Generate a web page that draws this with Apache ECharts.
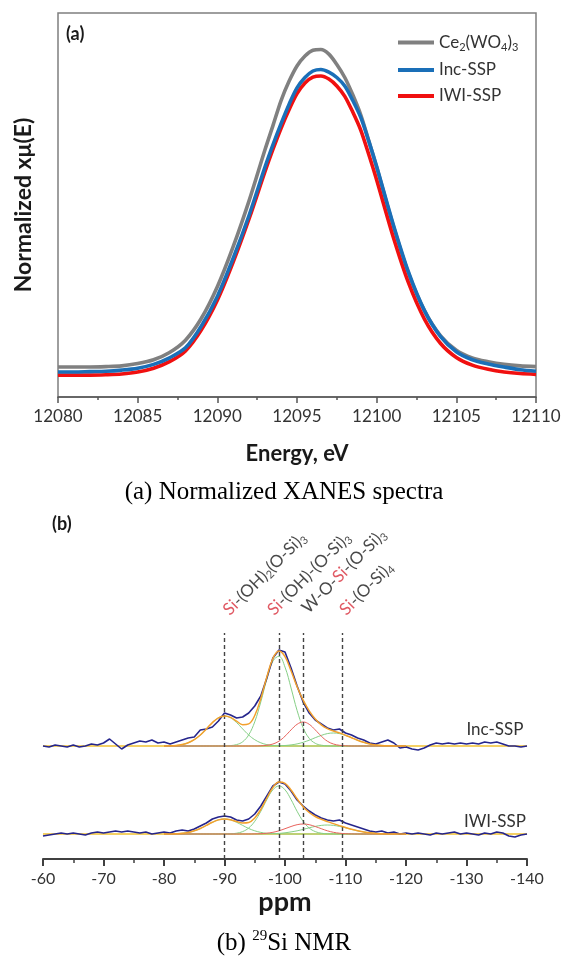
<!DOCTYPE html>
<html><head><meta charset="utf-8">
<script src="https://cdn.jsdelivr.net/npm/echarts@6/dist/echarts.min.js"></script>
<style>html,body{margin:0;padding:0;background:#fff}#c{width:564px;height:956px}</style>
</head><body><div id="c"></div>
<script>
// ---------- (a) XANES data ----------
const energy = [12080,12081,12082,12083,12084,12085,12086,12087,12088,12089,12090,12091,12092,12093,12093.5,12094,12094.5,12095,12095.5,12096,12096.5,12097,12097.5,12098,12098.5,12099,12099.5,12100,12101,12102,12103,12104,12105,12106,12107,12108,12109,12110];
const xanesCe  = [0.078,0.078,0.078,0.079,0.081,0.087,0.097,0.116,0.148,0.205,0.287,0.392,0.512,0.645,0.708,0.772,0.822,0.862,0.888,0.903,0.905,0.893,0.866,0.832,0.787,0.735,0.668,0.598,0.452,0.322,0.225,0.160,0.122,0.102,0.092,0.085,0.081,0.079];
const xanesInc = [0.065,0.065,0.066,0.067,0.070,0.075,0.085,0.102,0.128,0.185,0.262,0.362,0.474,0.600,0.658,0.712,0.762,0.805,0.832,0.849,0.853,0.846,0.832,0.810,0.772,0.728,0.667,0.600,0.455,0.325,0.225,0.158,0.118,0.097,0.086,0.078,0.071,0.067];
const xanesIwi = [0.057,0.057,0.057,0.058,0.060,0.065,0.075,0.092,0.120,0.175,0.252,0.352,0.465,0.588,0.646,0.700,0.748,0.790,0.818,0.833,0.836,0.828,0.810,0.783,0.742,0.695,0.632,0.565,0.422,0.297,0.203,0.140,0.103,0.083,0.072,0.065,0.061,0.059];
const xanesNames = ['Ce2(WO4)3','Inc-SSP','IWI-SSP'];

// ---------- (b) 29Si NMR data ----------
const ppm = [-60,-61,-62,-63,-64,-65,-66,-67,-68,-69,-70,-71,-72,-73,-74,-75,-76,-77,-78,-79,-80,-81,-82,-83,-84,-85,-86,-87,-88,-89,-90,-91,-92,-93,-94,-95,-96,-97,-98,-99,-100,-101,-102,-103,-104,-105,-106,-107,-108,-109,-110,-111,-112,-113,-114,-115,-116,-117,-118,-119,-120,-121,-122,-123,-124,-125,-126,-127,-128,-129,-130,-131,-132,-133,-134,-135,-136,-137,-138,-139,-140];
const nmrIncExp = [0,-1,1,0,-1,1,-1,0,2,1,3,7,2,-3,1,3,5,4,6,3,4,2,4,6,8,9,16,17,19,25,33,31,28,29,33,40,50,68,88,96,94,78,60,44,33,26,22,18,16,17,13,11,8,6,3,2,4,6,3,-2,-1,-3,-4,-2,1,3,2,3,2,3,2,3,2,4,3,4,2,0,0,-1,0];
const nmrIwiExp = [-2,-1,0,1,0,1,0,-1,1,2,1,2,3,2,3,2,1,2,0,1,2,1,3,4,3,5,8,11,15,17,18,17,14,13,15,20,28,38,48,52,50,43,34,28,23,19,16,14,13,14,11,9,7,5,3,2,3,1,2,0,1,0,1,0,-1,1,0,1,2,0,1,0,-1,1,0,2,1,-2,-3,-1,0];

const ppmFit = [-80,-81,-82,-83,-84,-85,-86,-87,-88,-89,-90,-91,-92,-93,-94,-95,-96,-97,-98,-99,-100,-101,-102,-103,-104,-105,-106,-107,-108,-109,-110,-111,-112,-113,-114,-115,-116,-117,-118,-119,-120];
// Inc-SSP fit
const incQ2   = [0.1,0.2,0.5,1.4,3.2,6.3,11.0,17.1,23.4,28.2,30,28.2,23.4,17.1,11.0,6.3,3.2,1.4,0.5,0.2,0.1,0,0,0,0,0,0,0,0,0,0,0,0,0,0,0,0,0,0,0,0];
const incQ3   = [0,0,0,0,0,0,0,0,0,0,0.1,0.4,1.4,4.2,11.1,24.2,44.1,67.0,84.9,89.7,78.9,58.0,35.5,18.1,7.7,2.7,0.8,0.2,0,0,0,0,0,0,0,0,0,0,0,0,0];
const incWOSi = [0,0,0,0,0,0,0,0,0,0,0,0,0,0,0,0,0.2,0.7,2.0,4.8,9.8,16.1,21.7,24,21.7,16.1,9.8,4.8,2.0,0.7,0.2,0,0,0,0,0,0,0,0,0,0];
const incQ4   = [0,0,0,0,0,0,0,0,0,0,0,0,0,0,0,0,0,0,0.1,0.2,0.5,1.1,2.1,3.7,5.8,8.3,10.6,12.4,13,12.4,10.6,8.3,5.8,3.7,2.1,1.1,0.5,0.2,0.1,0,0];
const incFit  = [0.1,0.2,0.5,1.4,3.2,6.3,11.0,17.1,23.4,28.2,30.1,28.6,24.8,21.3,22.1,30.5,47.5,69.1,87.5,94.9,89.3,75.2,59.3,45.8,35.2,27.1,21.2,17.4,15.0,13.1,10.8,8.3,5.8,3.7,2.1,1.1,0.5,0.2,0.1,0,0];
// IWI-SSP fit
const iwiQ2   = [0,0.1,0.3,0.7,1.6,3.2,5.5,8.6,11.7,14.1,15,14.1,11.7,8.6,5.5,3.2,1.6,0.7,0.3,0.1,0,0,0,0,0,0,0,0,0,0,0,0,0,0,0,0,0,0,0,0,0];
const iwiQ3   = [0,0,0,0,0,0,0,0,0,0,0.1,0.2,0.8,2.4,6.0,12.7,22.7,34.4,44.2,48,44.2,34.4,22.7,12.7,6.0,2.4,0.8,0.2,0.1,0,0,0,0,0,0,0,0,0,0,0,0];
const iwiWOSi = [0,0,0,0,0,0,0,0,0,0,0,0,0,0,0,0.1,0.3,0.8,1.7,3.2,5.3,7.5,9.3,10,9.3,7.5,5.3,3.2,1.7,0.8,0.3,0.1,0,0,0,0,0,0,0,0,0];
const iwiQ4   = [0,0,0,0,0,0,0,0,0,0,0,0,0,0,0,0,0,0.1,0.3,0.6,1.2,2.1,3.2,4.6,6.2,7.6,8.6,9,8.6,7.6,6.2,4.6,3.2,2.1,1.2,0.6,0.3,0.1,0,0,0];
const iwiFit  = [0,0.1,0.3,0.7,1.6,3.2,5.5,8.6,11.7,14.1,15.1,14.3,12.5,11.0,11.5,16.0,24.6,36.0,46.5,51.9,50.7,44.0,35.2,27.3,21.5,17.5,14.7,12.4,10.4,8.4,6.5,4.7,3.2,2.1,1.2,0.6,0.3,0.1,0,0,0];
const baselinePpm = [-60,-140];
const baselineVal = [0,0];

const assignPpm = [-90,-99,-103,-109.5];
const assignLabels = [
  '{r|Si}{k|-(OH)}{s|2}{k|(O-Si)}{s|3}',
  '{r|Si}{k|-(OH)-(O-Si)}{s|3}',
  '{k|W-O-}{r|Si}{k|-(O-Si)}{s|3}',
  '{r|Si}{k|-(O-Si)}{s|4}'
];

// ---------- layout / style ----------
const incOffset = 113, iwiOffset = 25;   // vertical stacking of the two spectra
const nmrTop = 226;
const assignDx = [9,-1,9,7.5];           // screen shift of each label start from its dashed line top
const assignDy = [-13,-13,-15,-13];
const ROT = 45;
const SANS = 'Lato, "Open Sans", "DejaVu Sans", sans-serif';
const SERIF = '"Liberation Serif", "DejaVu Serif", serif';

function pairs(xs, ys, off) { return xs.map((x, i) => [x, ys[i] + (off || 0)]); }
function nmr(name, xs, ys, off, color, width, z, smooth) {
  return { type: 'line', name, xAxisIndex: 1, yAxisIndex: 1, data: pairs(xs, ys, off),
    symbol: 'none', showSymbol: false, smooth: smooth ? 0.4 : false, silent: true,
    lineStyle: { color, width }, itemStyle: { color }, z };
}
function xanes(name, ys, color) {
  return { type: 'line', name, xAxisIndex: 0, yAxisIndex: 0, data: pairs(energy, ys),
    symbol: 'none', showSymbol: false, smooth: 0.3, lineStyle: { color, width: 3.6 }, itemStyle: { color } };
}
// label offsets are applied in the rotated frame: un-rotate the wanted screen shift
function rotOffset(dx, dy) {
  const a = ROT * Math.PI / 180, c = Math.cos(a), s = Math.sin(a);
  return [dx * c - dy * s, dx * s + dy * c];
}

const C_EXP = '#25258c', C_FIT = '#f2a02c', C_G = '#86cf86', C_R = '#e8625c', C_BASE = '#f0c030';
const LBL_RICH = {
  r: { fontFamily: SANS, fontSize: 17, lineHeight: 20, color: '#d8303c' },
  k: { fontFamily: SANS, fontSize: 17, lineHeight: 20, color: '#1a1a1a' },
  s: { fontFamily: SANS, fontSize: 11, lineHeight: 10, verticalAlign: 'bottom', color: '#1a1a1a' }
};

const chart = echarts.init(document.getElementById('c'));
const option = {
  animation: false,
  backgroundColor: '#ffffff',
  grid: [
    { left: 58, top: 13, width: 478, height: 384, show: true, borderColor: '#7f7f7f', borderWidth: 1.5 },
    { left: 43, top: 633, width: 484, height: 226 }
  ],
  xAxis: [
    { gridIndex: 0, type: 'value', min: 12080, max: 12110, interval: 5,
      axisLine: { show: true, lineStyle: { color: '#555', width: 1.5 } },
      axisTick: { show: true, length: 6, lineStyle: { color: '#555', width: 1.5 } },
      minorTick: { show: true, splitNumber: 2, length: 3, lineStyle: { color: '#555', width: 1.5 } },
      splitLine: { show: false },
      axisLabel: { color: '#333', fontSize: 17, fontFamily: SANS, margin: 11, formatter: v => String(v) },
      name: 'Energy, eV', nameLocation: 'middle', nameGap: 46,
      nameTextStyle: { fontSize: 22, fontWeight: 'bold', color: '#1a1a1a', fontFamily: SANS } },
    { gridIndex: 1, type: 'value', min: -140, max: -60, interval: 10, inverse: true,
      axisLine: { show: true, lineStyle: { color: '#404040', width: 2 } },
      axisTick: { show: true, length: 7, lineStyle: { color: '#404040', width: 2 } },
      minorTick: { show: true, splitNumber: 2, length: 4, lineStyle: { color: '#404040', width: 1.5 } },
      splitLine: { show: false },
      axisLabel: { color: '#333', fontSize: 16, fontFamily: SANS, margin: 12 },
      name: 'ppm', nameLocation: 'middle', nameGap: 30,
      nameTextStyle: { fontSize: 27, fontWeight: 'bold', color: '#1a1a1a', fontFamily: SANS } }
  ],
  yAxis: [
    { gridIndex: 0, type: 'value', min: 0, max: 1,
      axisLine: { show: false }, axisTick: { show: false }, axisLabel: { show: false }, splitLine: { show: false },
      name: 'Normalized xμ(E)', nameLocation: 'middle', nameGap: 23,
      nameTextStyle: { fontSize: 23, fontWeight: 'bold', color: '#1a1a1a', fontFamily: SANS } },
    { gridIndex: 1, type: 'value', min: 0, max: nmrTop, show: false }
  ],
  legend: {
    orient: 'vertical', left: 393, top: 29, itemWidth: 36, itemHeight: 4, icon: 'rect', itemGap: 9,
    selectedMode: false,
    data: xanesNames,
    formatter: n => n === 'Ce2(WO4)3' ? '{n|Ce}{s|2}{n|(WO}{s|4}{n|)}{s|3}' : '{n|' + n + '}',
    textStyle: { fontFamily: SANS, fontSize: 17, color: '#333',
      rich: { n: { fontFamily: SANS, fontSize: 17, lineHeight: 20, color: '#333' },
              s: { fontFamily: SANS, fontSize: 11, lineHeight: 10, verticalAlign: 'bottom', color: '#333' } } }
  },
  series: [
    xanes(xanesNames[0], xanesCe, '#808080'),
    xanes(xanesNames[2], xanesIwi, '#f01010'),
    xanes(xanesNames[1], xanesInc, '#1a6fb8'),
    // Inc-SSP
    nmr('incBase', baselinePpm, baselineVal, incOffset, C_BASE, 1.6, 2),
    nmr('incQ2', ppmFit, incQ2, incOffset, C_G, 1, 3, true),
    nmr('incQ3', ppmFit, incQ3, incOffset, C_G, 1, 3, true),
    nmr('incQ4', ppmFit, incQ4, incOffset, C_G, 1, 3, true),
    nmr('incWOSi', ppmFit, incWOSi, incOffset, C_R, 1, 3, true),
    Object.assign(nmr('incExp', ppm, nmrIncExp, incOffset, C_EXP, 1.6, 4), {
      markLine: { silent: true, symbol: 'none', label: { show: false },
        lineStyle: { type: [4, 3], color: '#444', width: 1.4 },
        data: assignPpm.map(p => ({ xAxis: p })) } }),
    nmr('incFit', ppmFit, incFit, incOffset, C_FIT, 1.5, 5, true),
    // IWI-SSP
    nmr('iwiBase', baselinePpm, baselineVal, iwiOffset, C_BASE, 1.6, 2),
    nmr('iwiQ2', ppmFit, iwiQ2, iwiOffset, C_G, 1, 3, true),
    nmr('iwiQ3', ppmFit, iwiQ3, iwiOffset, C_G, 1, 3, true),
    nmr('iwiQ4', ppmFit, iwiQ4, iwiOffset, C_G, 1, 3, true),
    nmr('iwiWOSi', ppmFit, iwiWOSi, iwiOffset, C_R, 1, 3, true),
    nmr('iwiExp', ppm, nmrIwiExp, iwiOffset, C_EXP, 1.6, 4),
    nmr('iwiFit', ppmFit, iwiFit, iwiOffset, C_FIT, 1.5, 5, true),
    // rotated assignment labels above the dashed lines
    { type: 'scatter', name: 'assign', xAxisIndex: 1, yAxisIndex: 1, silent: true, z: 10,
      symbolSize: 1, itemStyle: { color: 'rgba(0,0,0,0)' },
      data: assignPpm.map((p, i) => ({ value: [p, nmrTop], label: { offset: rotOffset(assignDx[i], assignDy[i]) } })),
      label: { show: true, position: [0, 0], rotate: ROT, align: 'left', verticalAlign: 'bottom',
        formatter: p => assignLabels[p.dataIndex], fontFamily: SANS, fontSize: 17, color: '#1a1a1a',
        rich: LBL_RICH } }
  ]
};
chart.setOption(option);

const graphics = [];
const incLbl = chart.convertToPixel({ xAxisIndex: 1, yAxisIndex: 1 }, [-134.7, incOffset + 16]);
const iwiLbl = chart.convertToPixel({ xAxisIndex: 1, yAxisIndex: 1 }, [-134.7, iwiOffset + 12]);
graphics.push({ type: 'text', x: incLbl[0], y: incLbl[1], z: 10,
  style: { text: 'Inc-SSP', align: 'center', verticalAlign: 'middle', font: '17px ' + SANS, fill: '#333' } });
graphics.push({ type: 'text', x: iwiLbl[0], y: iwiLbl[1], z: 10,
  style: { text: 'IWI-SSP', align: 'center', verticalAlign: 'middle', font: '17px ' + SANS, fill: '#333' } });
graphics.push({ type: 'text', x: 66, y: 34, z: 10,
  style: { text: '(a)', align: 'left', verticalAlign: 'middle', font: 'bold 18px ' + SANS, fill: '#1a1a1a' } });
graphics.push({ type: 'text', x: 52, y: 524, z: 10,
  style: { text: '(b)', align: 'left', verticalAlign: 'middle', font: 'bold 18px ' + SANS, fill: '#1a1a1a' } });
graphics.push({ type: 'text', x: 284, y: 492, z: 10,
  style: { text: '(a) Normalized XANES spectra', align: 'center', verticalAlign: 'middle', font: '25px ' + SERIF, fill: '#000' } });
graphics.push({ type: 'text', x: 284, y: 943, z: 10,
  style: { text: '{n|(b) }{p|29}{n|Si NMR}', align: 'center', verticalAlign: 'middle', font: '25px ' + SERIF, fill: '#000',
    rich: { n: { fontFamily: SERIF, fontSize: 25, lineHeight: 28, color: '#000' },
            p: { fontFamily: SERIF, fontSize: 15, lineHeight: 14, verticalAlign: 'top', color: '#000' } } } });
chart.setOption({ graphic: graphics });
</script>
</body></html>
